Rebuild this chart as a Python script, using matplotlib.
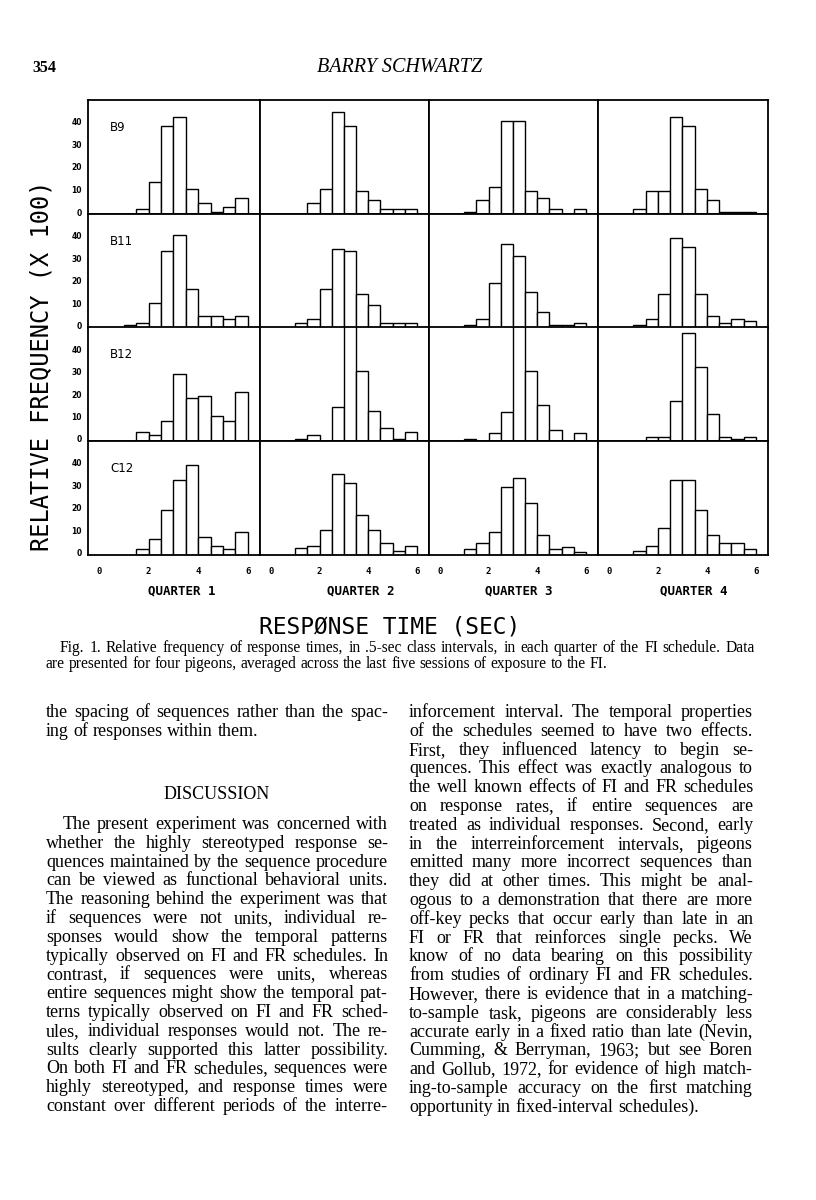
import matplotlib
matplotlib.use('Agg')
import matplotlib.pyplot as plt
from matplotlib.transforms import ScaledTranslation

W, H = 816, 1200

# relative frequency (x 100) per .5-sec class interval, bins 0-0.5 ... 5.5-6
bins = [0.0, 0.5, 1.0, 1.5, 2.0, 2.5, 3.0, 3.5, 4.0, 4.5, 5.0, 5.5]
pigeons = ['B9', 'B11', 'B12', 'C12']
quarters = ['QUARTER 1', 'QUARTER 2', 'QUARTER 3', 'QUARTER 4']

b9 = [
    [0, 0, 0, 2, 14, 39, 43, 11, 5, 1, 3, 7],
    [0, 0, 0, 5, 11, 45, 39, 10, 6, 2, 2, 2],
    [0, 0, 1, 6, 12, 41, 41, 10, 7, 2, 0, 2],
    [0, 0, 2, 10, 10, 43, 39, 11, 6, 1, 1, 1],
]
b11 = [
    [0, 0, 1, 2, 11, 34, 41, 17, 5, 5, 4, 5],
    [0, 0, 2, 4, 17, 35, 34, 15, 10, 2, 2, 2],
    [0, 0, 1, 4, 20, 37, 32, 16, 7, 1, 1, 2],
    [0, 0, 1, 4, 15, 40, 36, 15, 5, 2, 4, 3],
]
b12 = [
    [0, 0, 0, 4, 2.5, 9, 30, 19, 20, 11, 9, 22],
    [0, 0, 1, 2.5, 0, 15, 55, 31, 13.5, 6, 1, 4],
    [0, 0, 1, 0, 3.5, 13, 60, 31, 16, 5, 0, 3.5],
    [0, 0, 0, 2, 2, 18, 48, 33, 12, 2, 1, 2],
]
c12 = [
    [0, 0, 0, 2.5, 7, 20, 33, 40, 8, 4, 2.5, 10],
    [0, 0, 3, 4, 11, 36, 32, 17.5, 11, 5, 1.7, 4],
    [0, 0, 2.5, 5, 10, 30, 34, 23, 8.5, 2.5, 3.5, 1.3],
    [0, 0, 1.4, 4, 12, 33, 33, 20, 8.5, 5, 5, 2.5],
]
data = [b9, b11, b12, c12]

y_ticks = [0, 10, 20, 30, 40]
x_ticks = [0, 2, 4, 6]

caption = [
    "Fig. 1. Relative frequency of response times, in .5-sec class intervals, in each quarter of the FI schedule. Data",
    "are presented for four pigeons, averaged across the last five sessions of exposure to the FI.",
]
left_col = [
    "the spacing of sequences rather than the spac-",
    "ing of responses within them.",
]
left_col2 = [
    "The present experiment was concerned with",
    "whether the highly stereotyped response se-",
    "quences maintained by the sequence procedure",
    "can be viewed as functional behavioral units.",
    "The reasoning behind the experiment was that",
    "if sequences were not units, individual re-",
    "sponses would show the temporal patterns",
    "typically observed on FI and FR schedules. In",
    "contrast, if sequences were units, whereas",
    "entire sequences might show the temporal pat-",
    "terns typically observed on FI and FR sched-",
    "ules, individual responses would not. The re-",
    "sults clearly supported this latter possibility.",
    "On both FI and FR schedules, sequences were",
    "highly stereotyped, and response times were",
    "constant over different periods of the interre-",
]
right_col = [
    "inforcement interval. The temporal properties",
    "of the schedules seemed to have two effects.",
    "First, they influenced latency to begin se-",
    "quences. This effect was exactly analogous to",
    "the well known effects of FI and FR schedules",
    "on response rates, if entire sequences are",
    "treated as individual responses. Second, early",
    "in the interreinforcement intervals, pigeons",
    "emitted many more incorrect sequences than",
    "they did at other times. This might be anal-",
    "ogous to a demonstration that there are more",
    "off-key pecks that occur early than late in an",
    "FI or FR that reinforces single pecks. We",
    "know of no data bearing on this possibility",
    "from studies of ordinary FI and FR schedules.",
    "However, there is evidence that in a matching-",
    "to-sample task, pigeons are considerably less",
    "accurate early in a fixed ratio than late (Nevin,",
    "Cumming, & Berryman, 1963; but see Boren",
    "and Gollub, 1972, for evidence of high match-",
    "ing-to-sample accuracy on the first matching",
    "opportunity in fixed-interval schedules).",
]

fig = plt.figure(figsize=(W / 100, H / 100), dpi=100)
renderer = fig.canvas.get_renderer()


def fx(x):
    return x / W


def fy(y):
    return 1 - y / H


# panel grid (pixel edges)
col_edges = [88, 260, 429, 598, 768]
row_edges = [100, 214, 327.5, 441, 554.5]
lift = ScaledTranslation(0, 2 / 100, fig.dpi_scale_trans)

for r in range(4):
    for c in range(4):
        x0, x1 = col_edges[c], col_edges[c + 1]
        y0, y1 = row_edges[r], row_edges[r + 1]
        ax = fig.add_axes([fx(x0), fy(y1), (x1 - x0) / W, (y1 - y0) / H])
        vals = data[r][c]
        xs = [b for b, v in zip(bins, vals) if v > 0]
        hs = [v for v in vals if v > 0]
        ax.bar(xs, hs, width=0.5, align='edge', facecolor='white',
               edgecolor='black', linewidth=1.0)
        ax.set_xlim(-0.45, 6.5)
        ax.set_ylim(0, 50.5)
        for sp in ax.spines.values():
            sp.set_linewidth(1.3)
        ax.tick_params(length=0)
        if c == 0:
            ax.set_yticks(y_ticks)
            ax.set_yticklabels([str(t) for t in y_ticks], fontsize=5.5,
                               fontweight='bold', family='DejaVu Sans')
            ax.tick_params(axis='y', pad=4.5)
            for lab in ax.get_yticklabels():
                lab.set_transform(lab.get_transform() + lift)
            ax.text(0.13, 0.76, pigeons[r], transform=ax.transAxes,
                    fontsize=8.5, family='DejaVu Sans', va='center')
        else:
            ax.set_yticks([])
        if r == 3:
            ax.set_xticks(x_ticks)
            ax.set_xticklabels([str(t) for t in x_ticks], fontsize=6.5,
                               fontweight='bold', family='DejaVu Sans Mono')
            ax.tick_params(axis='x', pad=9)
        else:
            ax.set_xticks([])

# quarter labels
for q, xc in zip(quarters, [182, 361, 519, 694]):
    fig.text(fx(xc), fy(591), q, ha='center', va='center', fontsize=9,
             fontweight='bold', family='DejaVu Sans Mono')

fig.text(fx(42), fy(366), 'RELATIVE FREQUENCY (X 100)', rotation=90,
         ha='center', va='center', fontsize=17, family='DejaVu Sans Mono')
fig.text(fx(390), fy(627), 'RESP\u00d8NSE TIME (SEC)', ha='center',
         va='center', fontsize=16.5, family='DejaVu Sans Mono')

SERIF = 'Liberation Serif'

# page header
fig.text(fx(32), fy(72), '354', fontsize=11.5, fontweight='bold',
         family=SERIF, va='baseline')
fig.text(fx(400), fy(72), 'BARRY SCHWARTZ', fontsize=14.5, style='italic',
         family=SERIF, ha='center', va='baseline')


def put_line(s, x0, x1, base, size, justify=True, weight='normal'):
    words = s.split()
    objs = [fig.text(0, 0, w, fontsize=size, family=SERIF, va='baseline',
                     fontweight=weight) for w in words]
    widths = [o.get_window_extent(renderer).width for o in objs]
    if justify and len(words) > 1:
        gap = (x1 - x0 - sum(widths)) / (len(words) - 1)
    else:
        gap = size * 0.25 * 100 / 72
    x = x0
    for o, w in zip(objs, widths):
        o.set_position((fx(x), fy(base)))
        x += w + gap


# caption
put_line(caption[0], 60, 755, 652, 11.2)
put_line(caption[1], 46, 755, 668, 11.2, justify=False)

# body text
BODY = 13
step = 18.8
put_line(left_col[0], 46, 388, 717, BODY)
put_line(left_col[1], 46, 388, 717 + step, BODY, justify=False)
fig.text(fx(217), fy(799), 'DISCUSSION', fontsize=13, family=SERIF,
         ha='center', va='baseline')
for i, line in enumerate(left_col2):
    x0 = 63 if i == 0 else 46
    put_line(line, x0, 388, 829 + i * step, BODY)
for i, line in enumerate(right_col):
    last = i == len(right_col) - 1
    put_line(line, 409, 753, 717 + i * step, BODY, justify=not last)

fig.savefig('out.png', dpi=100)
